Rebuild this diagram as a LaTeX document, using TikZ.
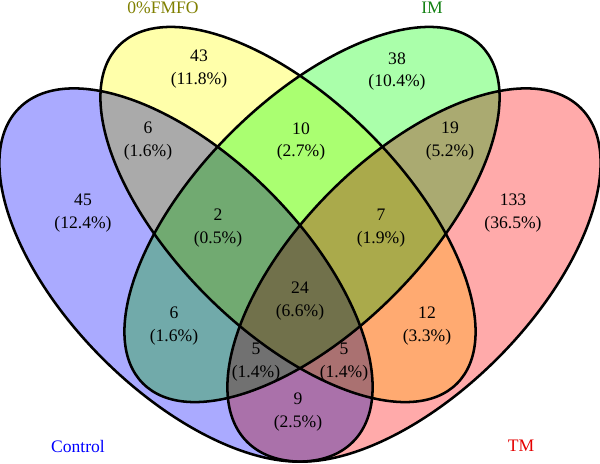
\documentclass[tikz,border=0pt]{standalone}
\usepackage{fontspec}
\setmainfont{Liberation Serif}
\usepackage{tikz}

\definecolor{ctrlblue}{RGB}{170,170,255}
\definecolor{fmfoyellow}{RGB}{255,255,170}
\definecolor{imgreen}{RGB}{170,255,170}
\definecolor{tmred}{RGB}{255,170,170}
\definecolor{fmfotext}{RGB}{128,128,0}
\definecolor{imtext}{RGB}{20,130,20}

\begin{document}
\begin{tikzpicture}[x=0.025cm,y=-0.025cm,
setfill/.style={fill=#1,blend mode=multiply},
outline/.style={draw=black,line width=1.8pt},
count/.style={align=center,inner sep=0pt,font=\fontsize{12.5}{16.3}\selectfont},
setname/.style={inner sep=0pt,font=\fontsize{12.5}{15}\selectfont}]
\useasboundingbox (0,0) rectangle (600,463);
\fill[white] (0,0) rectangle (600,463);
\coordinate (cCtrl) at (186,275);
\coordinate (cFmfo) at (288,214.5);
\coordinate (cIm) at (312,214.5);
\coordinate (cTm) at (414,275);
% fills
\path[setfill=ctrlblue,rotate around={-45:(cCtrl)}] (cCtrl) ellipse [x radius=236,y radius=118];
\path[setfill=fmfoyellow,rotate around={-45:(cFmfo)}] (cFmfo) ellipse [x radius=239,y radius=115];
\path[setfill=imgreen,rotate around={45:(cIm)}] (cIm) ellipse [x radius=239,y radius=115];
\path[setfill=tmred,rotate around={45:(cTm)}] (cTm) ellipse [x radius=236,y radius=118];
% outlines
\draw[outline,rotate around={-45:(cCtrl)}] (cCtrl) ellipse [x radius=236,y radius=118];
\draw[outline,rotate around={-45:(cFmfo)}] (cFmfo) ellipse [x radius=239,y radius=115];
\draw[outline,rotate around={45:(cIm)}] (cIm) ellipse [x radius=239,y radius=115];
\draw[outline,rotate around={45:(cTm)}] (cTm) ellipse [x radius=236,y radius=118];
% counts
\node[count] (n45) at (83,213.5) {45\\(12.4\%)};
\node[count] (n43) at (199,69.5) {43\\(11.8\%)};
\node[count] (n38) at (397,71.5) {38\\(10.4\%)};
\node[count] (n133) at (513,213.5) {133\\(36.5\%)};
\node[count] (n6a) at (148,141.5) {6\\(1.6\%)};
\node[count] (n10) at (301,141.5) {10\\(2.7\%)};
\node[count] (n19) at (450,141.5) {19\\(5.2\%)};
\node[count] (n2) at (218,228) {2\\(0.5\%)};
\node[count] (n7) at (381,228) {7\\(1.9\%)};
\node[count] (n24) at (300,301.5) {24\\(6.6\%)};
\node[count] (n6b) at (174,326) {6\\(1.6\%)};
\node[count] (n12) at (427,326) {12\\(3.3\%)};
\node[count] (n5a) at (256,362.5) {5\\(1.4\%)};
\node[count] (n5b) at (344,362.5) {5\\(1.4\%)};
\node[count] (n9) at (298,412.5) {9\\(2.5\%)};
% set names
\node[setname,text=blue] (lCtrl) at (78,446) {Control};
\node[setname,text=fmfotext] (lFmfo) at (163,8) {0\%FMFO};
\node[setname,text=imtext] (lIm) at (432,8) {IM};
\node[setname,text=red!90!black] (lTm) at (521,446) {TM};
\end{tikzpicture}
\end{document}
